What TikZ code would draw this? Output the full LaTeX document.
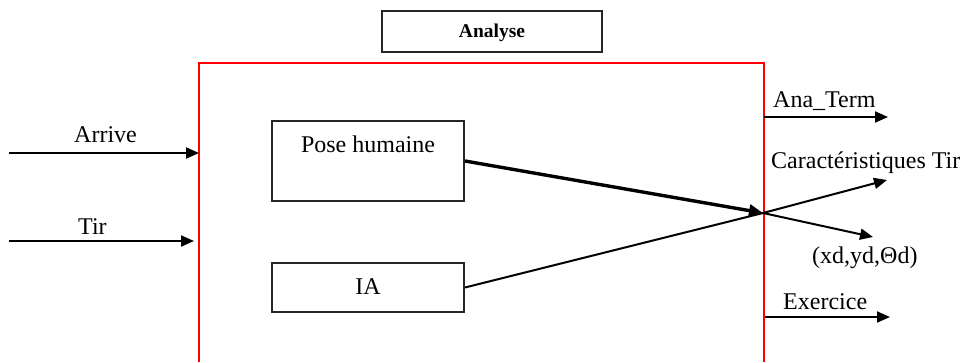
\documentclass[tikz,border=0pt]{standalone}
\usepackage{fontspec}
\setmainfont{Liberation Serif}
\usetikzlibrary{arrows.meta}
\begin{document}
\begin{tikzpicture}[x=1pt,y=-1pt,
  txt/.style={inner sep=0pt,font=\fontsize{24}{28}\selectfont},
  boxnode/.style={draw=black!85,line width=2pt,inner sep=0pt},
  flow/.style={line width=2pt,-{Triangle[length=13pt,width=11pt]}},
  frame/.style={draw=red,line width=1.6pt}]
\useasboundingbox (0,0) rectangle (966,362);
% title box
\node[boxnode,minimum width=220pt,minimum height=41pt] (analyse) at (492,31.5) {};
\node[inner sep=0pt,anchor=base,font=\fontsize{19.5}{22}\selectfont\bfseries] (analysetxt) at (492,37) {Analyse};
% red frame
\coordinate (fbl) at (199,362);
\coordinate (ftl) at (199,63);
\coordinate (ftr) at (764,63);
\coordinate (fbr) at (764,362);
\draw[frame] (fbl) -- (ftl) -- (ftr) -- (fbr);
% inner boxes
\node[boxnode,minimum width=192pt,minimum height=80pt] (pose) at (368,161) {};
\node[txt,anchor=base] (posetxt) at (368,152) {Pose humaine};
\node[boxnode,minimum width=192pt,minimum height=49pt] (ia) at (368,287.5) {};
\node[txt,anchor=base] (iatxt) at (368,294) {IA};
% junction
\coordinate (J) at (763,213);
\draw[line width=2pt] (ia.east) -- (J);
\draw[line width=3.4pt,-{Triangle[length=14pt,width=12pt]}] (pose.east) -- (J);
% inputs
\coordinate (a0) at (9,153);
\coordinate (a1) at (199,153);
\draw[flow] (a0) -- (a1);
\node[txt,anchor=base west] (arrive) at (74,142) {Arrive};
\coordinate (t0) at (9,241);
\coordinate (t1) at (194,241);
\draw[flow] (t0) -- (t1);
\node[txt,anchor=base west] (tir) at (78,234) {Tir};
% outputs
\coordinate (o0) at (764,117);
\coordinate (o1) at (888,117);
\draw[flow] (o0) -- (o1);
\node[txt,anchor=base west] (anaterm) at (773,107) {Ana\_Term};
\coordinate (c1) at (887,180);
\draw[flow] (J) -- (c1);
\node[txt,anchor=base west] (carac) at (771,168) {Caractéristiques Tir};
\coordinate (x1) at (873,237);
\draw[flow] (J) -- (x1);
\node[txt,anchor=base west] (xd) at (812,263) {(xd,yd,Θd)};
\coordinate (e0) at (765,317);
\coordinate (e1) at (890,317);
\draw[flow] (e0) -- (e1);
\node[txt,anchor=base west] (exer) at (783,309) {Exercice};
\end{tikzpicture}
\end{document}
